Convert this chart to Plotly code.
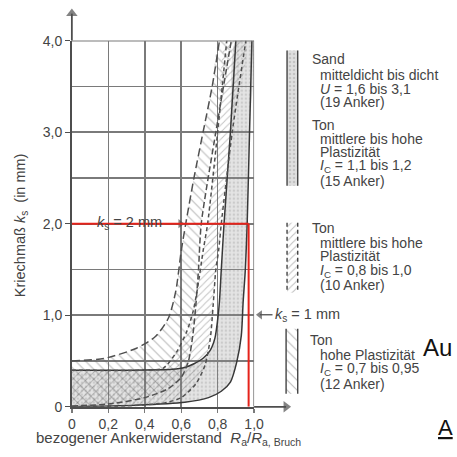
import plotly.graph_objects as go

# ---------------- data ----------------
x_ticks = [0, 0.2, 0.4, 0.6, 0.8, 1.0]
x_ticklabels = ["0", "0,2", "0,4", "0,6", "0,8", "1,0"]
y_ticks = [0, 1, 2, 3, 4]
y_ticklabels = ["0", "1,0", "2,0", "3,0", "4,0"]
y_minor = [0.5, 1.5, 2.5, 3.5]

# Sand / Ton (I_C 1,1-1,2): grey dotted band, solid borders
sand_upper_x = [0, 0.30, 0.55, 0.62, 0.67, 0.72, 0.76, 0.785, 0.80, 0.81, 0.82, 0.835, 0.87, 0.90]
sand_upper_y = [0.40, 0.40, 0.41, 0.43, 0.47, 0.53, 0.62, 0.75, 0.95, 1.15, 1.50, 2.00, 3.00, 4.00]
sand_lower_x = [0, 0.35, 0.62, 0.75, 0.82, 0.87, 0.905, 0.93, 0.94, 0.952, 0.962, 0.975, 0.988]
sand_lower_y = [0, 0.017, 0.05, 0.10, 0.17, 0.27, 0.49, 0.78, 1.15, 1.50, 2.00, 3.00, 4.00]

# Ton hohe Plastizitaet (I_C 0,7-0,95): "\" hatched band
ton_hoch_left_x = [0, 0.18, 0.355, 0.46, 0.53, 0.57, 0.60, 0.625, 0.67, 0.72, 0.77, 0.81]
ton_hoch_left_y = [0.50, 0.53, 0.64, 0.77, 0.97, 1.26, 1.70, 2.00, 2.50, 3.00, 3.50, 4.00]
ton_hoch_right_x = [0, 0.20, 0.40, 0.53, 0.60, 0.64, 0.665, 0.68, 0.695, 0.71, 0.79, 0.875]
ton_hoch_right_y = [0.01, 0.03, 0.10, 0.20, 0.32, 0.50, 0.80, 1.10, 1.50, 2.00, 3.00, 4.00]

# Ton mittlere bis hohe Plastizitaet (I_C 0,8-1,0): "/" hatched band
ton_mittel_left_x = [0, 0.40, 0.50, 0.575, 0.63, 0.665, 0.69, 0.72, 0.745, 0.80, 0.85]
ton_mittel_left_y = [0.40, 0.40, 0.42, 0.60, 0.82, 1.04, 1.30, 1.70, 2.00, 3.00, 4.00]
ton_mittel_right_x = [0, 0.30, 0.50, 0.60, 0.68, 0.73, 0.76, 0.775, 0.79, 0.805, 0.82, 0.88, 0.955]
ton_mittel_right_y = [0, 0.01, 0.04, 0.10, 0.25, 0.45, 0.75, 1.10, 1.50, 1.70, 2.00, 3.00, 4.00]

ks_limit = 2.0          # k_s = 2 mm
ratio_at_limit = 0.97   # red vertical line
ks_one = 1.0            # k_s = 1 mm

# ---------------- figure ----------------
W = H = 457
# vertical mapping of the photographed page (picture_y = SY * page_y + Y0)
SY, Y0 = 0.9645, 7.4


def page_y(py):
    return (py - Y0) / SY


PL, PR, PT, PB = 70, 258, 40, 406   # plot area in picture pixels
FONT = "Liberation Sans, Arial, sans-serif"
TXT = "#444444"
GRID = "#7a7a7a"
AX = "#4e4e4e"
GW = 1.6

fig = go.Figure()


def band(xa, ya, xb, yb):
    return list(xa) + list(xb)[::-1], list(ya) + list(yb)[::-1]


gx, gy = band(sand_upper_x, sand_upper_y, sand_lower_x, sand_lower_y)
fig.add_trace(go.Scatter(
    x=gx, y=gy, mode="lines", line=dict(width=0, shape="spline", smoothing=0.7),
    fill="toself", fillcolor="rgba(150,150,150,0.26)",
    fillpattern=dict(shape=".", fgcolor="rgba(110,110,110,0.45)",
                     bgcolor="rgba(150,150,150,0.26)", size=4, solidity=0.3),
    hoverinfo="skip", showlegend=False))

hx, hy = band(ton_hoch_left_x, ton_hoch_left_y, ton_hoch_right_x, ton_hoch_right_y)
fig.add_trace(go.Scatter(
    x=hx, y=hy, mode="lines", line=dict(width=0, shape="spline", smoothing=0.7),
    fill="toself", fillcolor="rgba(0,0,0,0)",
    fillpattern=dict(shape="\\", fgcolor="rgba(85,85,85,0.8)",
                     bgcolor="rgba(0,0,0,0)", size=7, solidity=0.16),
    hoverinfo="skip", showlegend=False))

mx, my = band(ton_mittel_left_x, ton_mittel_left_y, ton_mittel_right_x, ton_mittel_right_y)
fig.add_trace(go.Scatter(
    x=mx, y=my, mode="lines", line=dict(width=0, shape="spline", smoothing=0.7),
    fill="toself", fillcolor="rgba(0,0,0,0)",
    fillpattern=dict(shape="/", fgcolor="rgba(95,95,95,0.75)",
                     bgcolor="rgba(0,0,0,0)", size=5, solidity=0.2),
    hoverinfo="skip", showlegend=False))

for xs, ys, dash, col in [
    (sand_upper_x, sand_upper_y, "solid", "#383838"),
    (sand_lower_x, sand_lower_y, "solid", "#383838"),
    (ton_hoch_left_x, ton_hoch_left_y, "8px,4px", "#505050"),
    (ton_hoch_right_x, ton_hoch_right_y, "6px,3px", "#505050"),
    (ton_mittel_left_x, ton_mittel_left_y, "4px,3px", "#505050"),
    (ton_mittel_right_x, ton_mittel_right_y, "4px,3px", "#505050"),
]:
    fig.add_trace(go.Scatter(
        x=xs, y=ys, mode="lines",
        line=dict(color=col, width=1.5, dash=dash, shape="spline", smoothing=0.7),
        hoverinfo="skip", showlegend=False))

# ---------- legend symbols and arrows (picture pixel coordinates on x2/y2) ----------
def rect_trace(x0, x1, y0, y1, pattern):
    return go.Scatter(
        x=[x0, x1, x1, x0, x0], y=[y0, y0, y1, y1, y0], mode="lines",
        line=dict(width=0), fill="toself", fillcolor=pattern.get("bgcolor", "rgba(0,0,0,0)"),
        fillpattern=pattern, xaxis="x2", yaxis="y2", hoverinfo="skip", showlegend=False)


def vline_trace(x, y0, y1, dash):
    return go.Scatter(x=[x, x], y=[y0, y1], mode="lines",
                      line=dict(color="#444", width=1.4, dash=dash),
                      xaxis="x2", yaxis="y2", hoverinfo="skip", showlegend=False)


def arrow_trace(xt, yt, xh, yh, symbol, size=9, width=1.5):
    return go.Scatter(x=[xt, xh], y=[yt, yh], mode="lines+markers",
                      line=dict(color=AX, width=width),
                      marker=dict(symbol=["circle", symbol], size=[0, size], color=AX,
                                  line=dict(width=0)),
                      xaxis="x2", yaxis="y2", hoverinfo="skip", showlegend=False)


fig.add_trace(rect_trace(292, 303, 50, 185, dict(shape=".", fgcolor="rgba(110,110,110,0.5)",
                                                 bgcolor="rgba(150,150,150,0.3)", size=4, solidity=0.3)))
fig.add_trace(vline_trace(292, 50, 185, "solid"))
fig.add_trace(vline_trace(303, 50, 185, "solid"))
fig.add_trace(rect_trace(292, 303, 222, 292, dict(shape="/", fgcolor="rgba(90,90,90,0.8)",
                                                  bgcolor="rgba(0,0,0,0)", size=5, solidity=0.2)))
fig.add_trace(vline_trace(292, 222, 292, "4px,3px"))
fig.add_trace(vline_trace(303, 222, 292, "4px,3px"))
fig.add_trace(rect_trace(291, 303, 328, 393, dict(shape="\\", fgcolor="rgba(80,80,80,0.8)",
                                                  bgcolor="rgba(0,0,0,0)", size=7, solidity=0.15)))
fig.add_trace(vline_trace(291, 328, 393, "solid"))
fig.add_trace(vline_trace(303, 328, 393, "solid"))

fig.add_trace(arrow_trace(70, 40, 70, 13, "triangle-up", size=10, width=1.8))      # y axis
fig.add_trace(arrow_trace(258, 406, 291, 406, "triangle-right", size=10, width=1.8))  # x axis
fig.add_trace(arrow_trace(165, 223, 182, 223, "triangle-right", size=8, width=1.3))  # ks=2mm
fig.add_trace(arrow_trace(277, 314, 264, 314, "triangle-left", size=8, width=1.3))   # ks=1mm

# ---------- shapes ----------
shapes = [
    dict(type="line", xref="x", yref="y", x0=1.0, x1=1.0, y0=0, y1=4,
         line=dict(color=GRID, width=GW)),
    dict(type="line", xref="x", yref="y", x0=0, x1=1.0, y0=4, y1=4,
         line=dict(color=GRID, width=GW)),
    dict(type="line", xref="x2", yref="y2", x0=73, x1=91, y0=223, y1=223,
         line=dict(color=AX, width=1.3)),
    dict(type="line", xref="x", yref="y", x0=0, x1=ratio_at_limit, y0=ks_limit, y1=ks_limit,
         line=dict(color="#e5231b", width=2)),
    dict(type="line", xref="x", yref="y", x0=ratio_at_limit, x1=ratio_at_limit, y0=0, y1=ks_limit,
         line=dict(color="#e5231b", width=2)),
]

# ---------- annotations ----------
ann = []


def txt(x, y, s, size=13.5, anchor="left", color=TXT, angle=0):
    ann.append(dict(x=x, y=y, xref="x2", yref="y2", text=s, showarrow=False,
                    xanchor=anchor, yanchor="middle", textangle=angle,
                    font=dict(family=FONT, size=size, color=color)))


txt(129, 222, "<i>k</i><sub>s</sub> = 2 mm", anchor="center", size=14.5)
txt(278, 314, "<i>k</i><sub>s</sub> = 1 mm", size=14.5)

txt(17, 224, "Kriechmaß <i>k</i><sub>s</sub>  (in mm)", anchor="center", angle=-90, size=14.5)
txt(170, 438, "bezogener Ankerwiderstand  <i>R</i><sub>a</sub>/<i>R</i><sub>a, Bruch</sub>",
    anchor="center", size=15)

legend_lines = [
    (316, 58, "Sand"),
    (324, 74, "mitteldicht bis dicht"),
    (324, 88, "<i>U</i> = 1,6 bis 3,1"),
    (324, 101, "(19 Anker)"),
    (316, 124, "Ton"),
    (324, 138, "mittlere bis hohe"),
    (324, 151, "Plastizität"),
    (324, 165, "<i>I</i><sub>C</sub> = 1,1 bis 1,2"),
    (324, 180, "(15 Anker)"),
    (316, 227, "Ton"),
    (324, 242, "mittlere bis hohe"),
    (324, 255, "Plastizität"),
    (324, 270, "<i>I</i><sub>C</sub> = 0,8 bis 1,0"),
    (324, 284, "(10 Anker)"),
    (314, 339, "Ton"),
    (324, 354, "hohe Plastizität"),
    (324, 368, "<i>I</i><sub>C</sub> = 0,7 bis 0,95"),
    (324, 383, "(12 Anker)"),
]
for lx, ly, s in legend_lines:
    txt(lx, ly, s, size=14)

# cut-off text of the surrounding page
txt(430, 347, "Au", size=24, color="#111")
txt(446, 427, "<u>A</u>", size=22, color="#111")

fig.update_layout(
    width=W, height=H, margin=dict(l=0, r=0, t=0, b=0),
    paper_bgcolor="white", plot_bgcolor="rgba(0,0,0,0)",
    showlegend=False, shapes=shapes, annotations=ann,
    xaxis=dict(domain=[PL / W, PR / W], range=[0, 1],
               tickvals=x_ticks, ticktext=x_ticklabels,
               showgrid=True, gridcolor=GRID, gridwidth=GW, zeroline=False,
               showline=True, linecolor=AX, linewidth=1.8, ticks="outside", ticklen=4,
               tickcolor=GRID, tickwidth=1.3,
               tickfont=dict(family=FONT, size=14, color=TXT), fixedrange=True),
    yaxis=dict(domain=[(H - page_y(PB)) / H, (H - page_y(PT)) / H], range=[0, 4],
               tickvals=y_ticks, ticktext=y_ticklabels,
               showgrid=True, gridcolor=GRID, gridwidth=GW,
               minor=dict(tickvals=y_minor, showgrid=True, gridcolor=GRID, gridwidth=GW, ticks=""),
               zeroline=False, showline=True, linecolor=AX, linewidth=1.8,
               ticks="outside", ticklen=5, tickcolor=AX, tickwidth=1.3,
               tickfont=dict(family=FONT, size=14, color=TXT), fixedrange=True),
    xaxis2=dict(domain=[0, 1], range=[0, W], visible=False, anchor="y2", fixedrange=True),
    yaxis2=dict(domain=[0, 1], range=[SY * H + Y0, Y0], visible=False, anchor="x2",
                fixedrange=True),
)

fig.write_html(
    "out.html",
    config={"displayModeBar": False, "staticPlot": True},
    post_script="document.body.style.margin='0';document.body.style.overflow='hidden';",
)
